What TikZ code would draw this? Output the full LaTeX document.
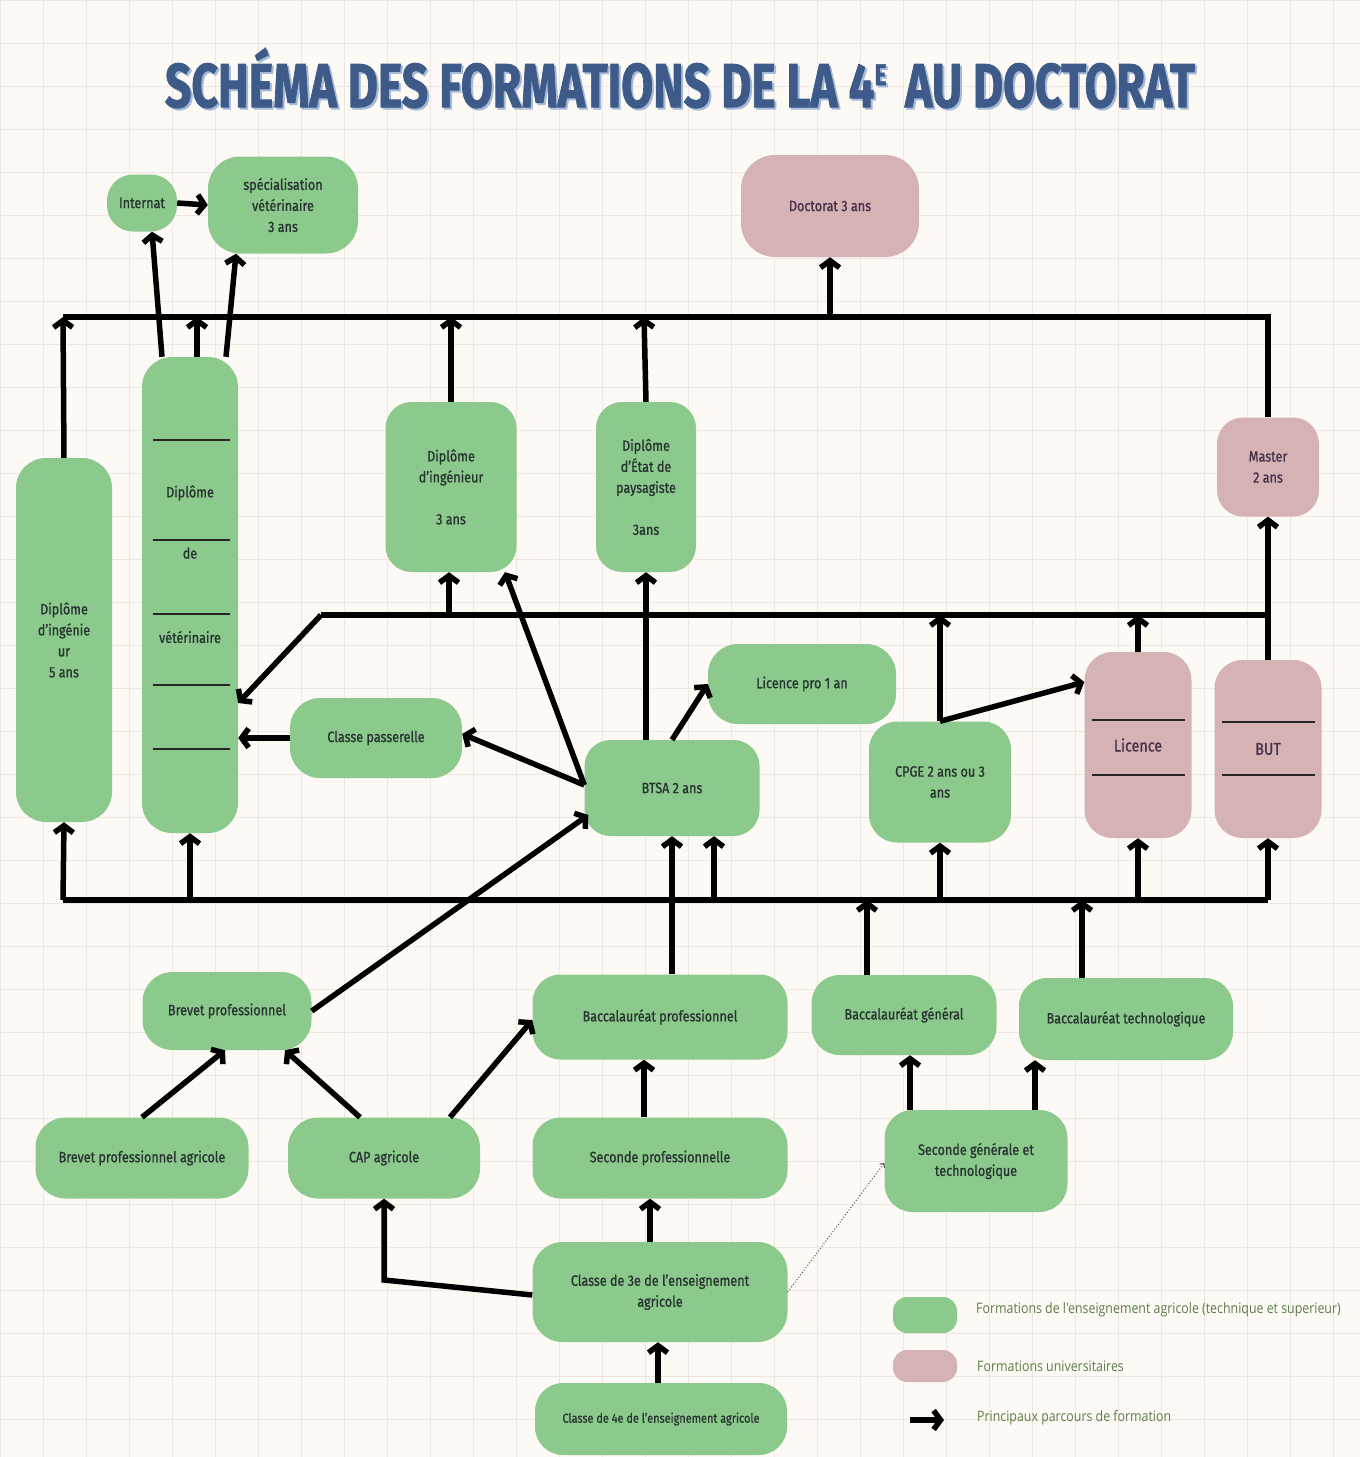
\documentclass[tikz,border=0pt]{standalone}
\usepackage{fontspec}
\usepackage{graphicx}
\setmainfont{Fira Sans}[FakeStretch=0.84,FakeBold=0.8]
\newfontfamily\legfont{Open Sans}[FakeStretch=0.86]
\newfontfamily\titlefont{Fira Sans}[FakeBold=1.5]
\usetikzlibrary{arrows.meta,calc}
\definecolor{bgc}{HTML}{FDFAF5}
\definecolor{gridc}{HTML}{EEE6E0}
\definecolor{agri}{HTML}{8CC98D}
\definecolor{univ}{HTML}{D5B2B4}
\definecolor{txtc}{HTML}{26332F}
\definecolor{utxt}{HTML}{45304A}
\definecolor{titc}{HTML}{3D5A88}
\definecolor{tits}{HTML}{A3BAD8}
\definecolor{legc}{HTML}{5C7E4C}
\tikzset{
  box/.style={draw=none, inner sep=2pt, align=center, text=txtc, font=\fontsize{15}{21}\selectfont},
  gbox/.style={box, fill=agri},
  pbox/.style={box, fill=univ, text=utxt},
  conn/.style={line width=5.5pt, -{Straight Barb[length=7pt,width=19pt]}},
  bus/.style={line width=5.5pt},
  sepline/.style={line width=2pt, black!85},
}
\begin{document}
\begin{tikzpicture}[x=1pt,y=-1pt]
\useasboundingbox (0,0) rectangle (1360,1457);
\fill[bgc] (0,0) rectangle (1360,1457);
\draw[gridc, line width=0.8pt, step=43pt] (0,0) grid (1360,1457);

% title
\node[text=tits] (titshadow) at (682,80) {\resizebox{1030pt}{\height}{\titlefont\bfseries\fontsize{62}{62}\selectfont SCHÉMA DES FORMATIONS DE LA 4{\fontsize{30}{30}\selectfont\raisebox{22pt}{E}}\, AU DOCTORAT}};
\node[text=titc] (title) at (680,78) {\resizebox{1030pt}{\height}{\titlefont\bfseries\fontsize{62}{62}\selectfont SCHÉMA DES FORMATIONS DE LA 4{\fontsize{30}{30}\selectfont\raisebox{22pt}{E}}\, AU DOCTORAT}};

% nodes
\node[gbox, minimum width=70pt, minimum height=57pt, rounded corners=26pt] (internat) at (142,203) {Internat};
\node[gbox, minimum width=150pt, minimum height=97pt, rounded corners=32pt] (spec) at (283,205) {spécialisation\\vétérinaire\\3 ans};
\node[pbox, minimum width=178pt, minimum height=102pt, rounded corners=34pt] (doct) at (830,206) {Doctorat 3 ans};
\node[gbox, minimum width=96pt, minimum height=476pt, rounded corners=30pt] (vet) at (190,595) {};
\node[gbox, minimum width=96pt, minimum height=364pt, rounded corners=30pt] (ing5) at (64,640) {Diplôme\\d'ingénie\\ur\\5 ans};
\node[gbox, minimum width=131pt, minimum height=170pt, rounded corners=26pt] (ing3) at (451,487) {Diplôme\\d'ingénieur\\\mbox{}\\3 ans};
\node[gbox, minimum width=100pt, minimum height=170pt, rounded corners=26pt] (pays) at (646,487) {Diplôme\\d'État de\\paysagiste\\\mbox{}\\3ans};
\node[pbox, minimum width=102pt, minimum height=99pt, rounded corners=26pt] (master) at (1268,467) {Master\\2 ans};
\node[gbox, minimum width=188pt, minimum height=80pt, rounded corners=30pt] (lpro) at (802,684) {Licence pro 1 an};
\node[gbox, minimum width=172pt, minimum height=80pt, rounded corners=30pt] (pass) at (376,738) {Classe passerelle};
\node[gbox, minimum width=175pt, minimum height=96pt, rounded corners=26pt] (btsa) at (672,788) {BTSA 2 ans};
\node[gbox, minimum width=142pt, minimum height=121pt, rounded corners=28pt] (cpge) at (940,782) {CPGE 2 ans ou 3\\ans};
\node[pbox, minimum width=107pt, minimum height=186pt, rounded corners=28pt, font=\fontsize{17}{20}\selectfont] (lic) at (1138,745) {Licence};
\node[pbox, minimum width=107pt, minimum height=178pt, rounded corners=28pt, font=\fontsize{17}{20}\selectfont] (but) at (1268,749) {BUT};
\node[gbox, minimum width=169pt, minimum height=78pt, rounded corners=30pt] (bp) at (227,1011) {Brevet professionnel};
\node[gbox, minimum width=255pt, minimum height=85pt, rounded corners=28pt] (bacpro) at (660,1017) {Baccalauréat professionnel};
\node[gbox, minimum width=185pt, minimum height=80pt, rounded corners=28pt] (bacgen) at (904,1015) {Baccalauréat général};
\node[gbox, minimum width=214pt, minimum height=82pt, rounded corners=28pt] (bactech) at (1126,1019) {Baccalauréat technologique};
\node[gbox, minimum width=213pt, minimum height=81pt, rounded corners=30pt] (bpa) at (142,1158) {Brevet professionnel agricole};
\node[gbox, minimum width=192pt, minimum height=81pt, rounded corners=30pt] (cap) at (384,1158) {CAP agricole};
\node[gbox, minimum width=255pt, minimum height=81pt, rounded corners=28pt] (secpro) at (660,1158) {Seconde professionnelle};
\node[gbox, minimum width=183pt, minimum height=102pt, rounded corners=28pt] (secgt) at (976,1161) {Seconde générale et\\technologique};
\node[gbox, minimum width=255pt, minimum height=100pt, rounded corners=30pt] (c3) at (660,1292) {Classe de 3e de l'enseignement\\agricole};
\node[gbox, minimum width=252pt, minimum height=72pt, rounded corners=28pt, font=\fontsize{13}{15}\selectfont] (c4) at (661,1419) {Classe de 4e de l'enseignement agricole};

% vet box inner texts and lines
\node[box] (vetA) at (190,493) {Diplôme};
\node[box] (vetB) at (190,553) {de};
\node[box] (vetC) at (190,637) {vétérinaire};
\foreach \yy in {440,540,614,685,749} \draw[sepline] (153,\yy) -- (230,\yy);
\foreach \yy in {720,775} \draw[sepline] (1092,\yy) -- (1185,\yy);
\foreach \yy in {722,775} \draw[sepline] (1222,\yy) -- (1315,\yy);

% bus coordinates
\coordinate (tbL) at (63,317);
\coordinate (tbR) at (1268,317);
\coordinate (mbL) at (321,615);
\coordinate (mbR) at (1268,615);
\coordinate (bbL) at (63,900);
\coordinate (bbR) at (1268,900);
\coordinate (capj) at (384,1280);

% top bus
\draw[bus] (tbL) -- (tbR) -- (master.north);
\draw[conn] (ing5.north) -- (tbL);
\draw[conn] (tbL -| doct.south) -- (doct.south);
\draw[conn] ([xshift=-28pt]vet.north) -- ([xshift=10pt]internat.south);
\draw[conn] ([xshift=7pt]vet.north) -- ([xshift=7pt]vet.north |- tbL);
\draw[conn] ([xshift=36pt]vet.north) -- ([xshift=-47pt]spec.south);
\draw[conn] (internat.east) -- (spec.west);
\draw[conn] (ing3.north) -- (ing3.north |- tbL);
\draw[conn] (pays.north) -- ([xshift=-2pt]pays.north |- tbL);

% middle bus
\draw[bus] (mbR) -- (mbL);
\draw[conn] (mbL) -- ([yshift=-108pt]vet.east);
\draw[conn] (but.north) -- (master.south);
\draw[conn] ([xshift=-2pt]ing3.south |- mbL) -- ([xshift=-2pt]ing3.south);
\draw[conn] (cpge.north) -- (cpge.north |- mbL);
\draw[conn] (lic.north) -- (lic.north |- mbL);
\draw[conn] (cpge.north) -- ([yshift=63pt]lic.west);

% BTSA links
\draw[conn] ([xshift=-26pt]btsa.north) -- (pays.south);
\draw[conn] (btsa.north) -- (lpro.west);
\draw[conn] ([yshift=3pt]btsa.west) -- ([yshift=4pt]pass.east);
\draw[conn] ([yshift=3pt]btsa.west) -- ([xshift=54pt]ing3.south);
\draw[conn] (pass.west) -- (pass.west -| vet.east);

% bottom bus
\draw[bus] (bbL) -- (bbR);
\draw[conn] (bbL) -- (ing5.south);
\draw[conn] (vet.south |- bbL) -- (vet.south);
\draw[conn] ([xshift=42pt]btsa.south |- bbL) -- ([xshift=42pt]btsa.south);
\draw[conn] (cpge.south |- bbL) -- (cpge.south);
\draw[conn] (lic.south |- bbL) -- (lic.south);
\draw[conn] (bbR) -- (but.south);
\draw[conn] ([xshift=12pt]bacpro.north) -- (btsa.south);
\draw[conn] ([xshift=-37pt]bacgen.north) -- ([xshift=-37pt]bacgen.north |- bbL);
\draw[conn] ([xshift=-44pt]bactech.north) -- ([xshift=-44pt]bactech.north |- bbL);
\draw[conn] (bp.east) -- ([xshift=4pt,yshift=-27pt]btsa.west);

% lower links
\draw[conn] (bpa.north) -- ([xshift=-2pt]bp.south);
\draw[conn] ([xshift=-24pt]cap.north) -- ([xshift=58pt]bp.south);
\draw[conn] ([xshift=66pt]cap.north) -- ([yshift=-3pt]bacpro.west);
\draw[conn] ([xshift=-16pt]secpro.north) -- ([xshift=-16pt]bacpro.south);
\draw[conn] ([xshift=-66pt]secgt.north) -- ([xshift=-66pt]secgt.north |- bacgen.south);
\draw[conn] ([xshift=59pt]secgt.north) -- ([xshift=59pt]secgt.north |- bactech.south);
\draw[conn] ([xshift=-10pt]c3.north) -- ([xshift=-10pt]c3.north |- secpro.south);
\draw[conn] ([yshift=-3pt]c3.west) -- (capj) -- (cap.south);
\draw[line width=1pt, dotted, black!70, -{Straight Barb[length=3pt,width=6pt]}] (c3.east) -- ([yshift=-2pt]secgt.west);
\draw[conn] ([xshift=-3pt]c4.north) -- ([xshift=-3pt]c4.north |- c3.south);

% legend
\node[fill=agri, minimum width=64pt, minimum height=36pt, rounded corners=14pt, inner sep=0pt] (legg) at (925,1315) {};
\node[fill=univ, minimum width=64pt, minimum height=32pt, rounded corners=14pt, inner sep=0pt] (legp) at (925,1366) {};
\coordinate (la1) at (910,1420);
\coordinate (la2) at (944,1420);
\draw[conn] (la1) -- (la2);
\node[anchor=west, text=legc, font=\legfont\fontsize{14.4}{16}\selectfont, inner sep=0pt] (legt1) at (976,1310) {Formations de l'enseignement agricole (technique et superieur)};
\node[anchor=west, text=legc, font=\legfont\fontsize{14.4}{16}\selectfont, inner sep=0pt] (legt2) at (977,1366) {Formations universitaires};
\node[anchor=west, text=legc, font=\legfont\fontsize{14.4}{16}\selectfont, inner sep=0pt] (legt3) at (977,1418) {Principaux parcours de formation};
\end{tikzpicture}
\end{document}
